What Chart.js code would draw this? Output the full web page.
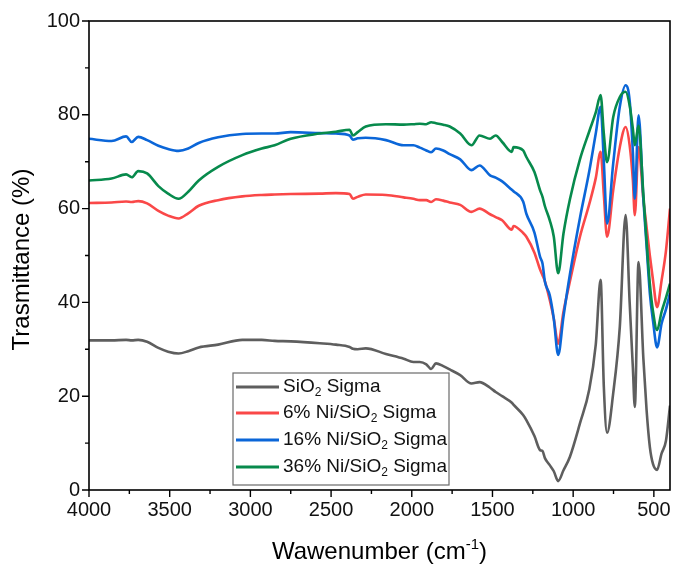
<!DOCTYPE html>
<html>
<head>
<meta charset="utf-8">
<title>FTIR spectra - SiO2 Sigma</title>
<script src="https://cdn.jsdelivr.net/npm/chart.js@4.4.1/dist/chart.umd.min.js"></script>
<style>
    html, body { margin: 0; padding: 0; background: #ffffff; }
    #wrap { width: 673px; height: 566px; }
</style>
</head>
<body>
<div id="wrap"><canvas id="ftirChart" width="673" height="566"></canvas></div>
<script>
// Wavenumbers (cm-1) shared by all four spectra
const wavenumbers = [
    4000, 3860, 3770, 3735, 3695, 3640, 3570, 3510, 3445, 3385,
    3320, 3200, 3050, 2930, 2850, 2750, 2570, 2470, 2385, 2365,
    2335, 2285, 2160, 2050, 1990, 1950, 1910, 1880, 1850, 1805,
    1765, 1700, 1630, 1580, 1515, 1480, 1440, 1380, 1370, 1310,
    1290, 1240, 1205, 1190, 1175, 1145, 1120, 1093, 1060, 1020,
    958, 900, 860, 830, 810, 790, 752, 711, 675, 650,
    630, 618, 595, 565, 545, 525, 505, 480, 452, 425, 400
];

// Transmittance (%)
const tSiO2 = [
    31.9, 31.9, 32.0, 31.9, 32.0, 31.6, 30.3, 29.5, 29.1, 29.6,
    30.4, 31.0, 32.0, 32.0, 31.8, 31.7, 31.3, 31.0, 30.5, 30.1,
    30.0, 30.2, 29.0, 28.0, 27.3, 27.3, 26.8, 25.8, 27.0, 26.4,
    25.7, 24.5, 22.7, 23.0, 21.8, 20.9, 20.0, 18.6, 18.2, 16.0,
    14.9, 11.5, 8.5, 8.3, 6.8, 5.3, 4.0, 1.9, 4.2, 7.1,
    14.2, 21.5, 31.0, 44.8, 22.0, 12.2, 20.6, 34.8, 58.6, 40.0,
    26.0, 17.7, 48.6, 28.0, 17.0, 9.2, 5.5, 4.3, 7.8, 10.5, 18.0
];
const tNi6 = [
    61.2, 61.3, 61.5, 61.4, 61.6, 61.1, 59.5, 58.5, 57.9, 59.0,
    60.6, 61.8, 62.6, 62.9, 63.0, 63.1, 63.2, 63.3, 63.1, 62.1,
    62.5, 63.0, 62.9, 62.4, 62.1, 61.8, 61.8, 61.4, 62.0, 61.7,
    61.3, 60.8, 59.3, 60.0, 58.8, 58.2, 57.5, 55.5, 56.3, 54.8,
    54.0, 50.6, 47.0, 45.8, 44.5, 40.5, 36.5, 31.2, 38.0, 44.5,
    54.0, 61.0, 66.5, 72.1, 63.0, 54.0, 63.9, 73.1, 77.4, 73.5,
    66.0, 58.6, 73.1, 62.0, 56.0, 50.0, 44.7, 39.0, 44.7, 51.0, 60.0
];
const tNi16 = [
    74.9, 74.4, 75.4, 74.2, 75.3, 74.6, 73.4, 72.7, 72.3, 72.8,
    74.0, 75.2, 75.9, 76.0, 76.0, 76.3, 76.1, 76.0, 75.6, 74.7,
    75.0, 75.1, 74.6, 73.5, 73.5, 73.0, 72.4, 72.0, 72.8, 72.4,
    71.6, 70.5, 68.2, 69.2, 67.1, 66.6, 65.8, 64.0, 63.7, 61.5,
    58.9, 54.9, 49.7, 48.3, 44.4, 41.5, 36.5, 28.8, 37.0, 46.0,
    58.0, 68.0, 76.0, 81.7, 70.0, 56.8, 69.6, 81.7, 86.3, 83.0,
    72.0, 62.1, 79.9, 62.0, 52.0, 42.0, 36.0, 30.4, 35.5, 38.5, 42.0
];
const tNi36 = [
    66.0, 66.4, 67.3, 66.7, 68.0, 67.5, 64.8, 63.2, 62.1, 63.6,
    66.0, 68.9, 71.4, 72.8, 73.5, 74.9, 76.0, 76.4, 76.8, 75.6,
    76.3, 77.5, 78.0, 77.9, 78.0, 78.1, 78.0, 78.4, 78.2, 77.9,
    77.5, 76.0, 73.5, 75.6, 74.9, 75.6, 74.2, 72.1, 73.1, 72.4,
    71.0, 67.8, 63.9, 62.5, 60.5, 57.5, 54.0, 46.2, 54.7, 62.0,
    70.5, 76.5, 80.5, 84.2, 76.0, 69.9, 79.5, 83.8, 84.9, 82.0,
    77.0, 73.5, 77.7, 63.0, 53.0, 44.0, 38.0, 34.1, 38.0, 41.0, 44.0
];

// Labelled ticks
const xTickLabels = [4000, 3500, 3000, 2500, 2000, 1500, 1000, 500];
const yTickLabels = [0, 20, 40, 60, 80, 100];

// Legend entries: [text, subscript, text]
const legendLabels = [
    ['SiO', '2', ' Sigma'],
    ['6% Ni/SiO', '2', ' Sigma'],
    ['16% Ni/SiO', '2', ' Sigma'],
    ['36% Ni/SiO', '2', ' Sigma']
];
const seriesColors = ['#5e5e5e', '#fa4848', '#0b66d8', '#078a4c'];

const FONT = '"Liberation Sans", Arial, sans-serif';

// Build {x, y} points for one spectrum
function toPoints(values) {
    return wavenumbers.map((w, i) => ({ x: w, y: values[i] }));
}

function makeDataset(values, idx, order) {
    return {
        label: legendLabels[idx].join(''),
        data: toPoints(values),
        borderColor: seriesColors[idx],
        borderWidth: 2.6,
        pointRadius: 0,
        cubicInterpolationMode: 'monotone',
        fill: false,
        order: order
    };
}

// Draws the box frame, outward ticks, axis titles and the legend
const decorPlugin = {
    id: 'decor',
    afterDraw(chart) {
        const ctx = chart.ctx;
        const area = chart.chartArea;
        const xs = chart.scales.x;
        const ys = chart.scales.y;

        ctx.save();
        ctx.strokeStyle = '#000';
        ctx.lineWidth = 1.6;
        ctx.strokeRect(area.left, area.top, area.right - area.left, area.bottom - area.top);

        // tick marks
        ctx.lineWidth = 1.4;
        ctx.beginPath();
        xs.ticks.forEach(t => {
            const px = xs.getPixelForValue(t.value);
            const len = xTickLabels.includes(t.value) ? 7 : 4;
            ctx.moveTo(px, area.bottom);
            ctx.lineTo(px, area.bottom + len);
        });
        ys.ticks.forEach(t => {
            const py = ys.getPixelForValue(t.value);
            const len = yTickLabels.includes(t.value) ? 7 : 4;
            ctx.moveTo(area.left, py);
            ctx.lineTo(area.left - len, py);
        });
        ctx.stroke();

        // y axis title
        ctx.fillStyle = '#000';
        ctx.font = '24px ' + FONT;
        ctx.textAlign = 'center';
        ctx.textBaseline = 'middle';
        ctx.save();
        ctx.translate(22, (area.top + area.bottom) / 2 + 4);
        ctx.rotate(-Math.PI / 2);
        ctx.fillText('Trasmittance (%)', 0, 0);
        ctx.restore();

        // x axis title with superscript
        const main = 'Wawenumber (cm';
        const sup = '-1';
        const close = ')';
        ctx.textAlign = 'left';
        ctx.textBaseline = 'alphabetic';
        ctx.font = '24px ' + FONT;
        const wMain = ctx.measureText(main).width;
        const wClose = ctx.measureText(close).width;
        ctx.font = '15px ' + FONT;
        const wSup = ctx.measureText(sup).width;
        let x = (area.left + area.right) / 2 - (wMain + wSup + wClose) / 2;
        const base = 559;
        ctx.font = '24px ' + FONT;
        ctx.fillText(main, x, base);
        x += wMain;
        ctx.font = '15px ' + FONT;
        ctx.fillText(sup, x, base - 10);
        x += wSup;
        ctx.font = '24px ' + FONT;
        ctx.fillText(close, x, base);

        // legend box
        const box = { left: 233, top: 373, width: 216, height: 112 };
        ctx.fillStyle = '#fff';
        ctx.fillRect(box.left, box.top, box.width, box.height);
        ctx.strokeStyle = '#6a6a6a';
        ctx.lineWidth = 1.2;
        ctx.strokeRect(box.left, box.top, box.width, box.height);
        const rows = [387, 413, 440, 467];
        legendLabels.forEach((parts, i) => {
            const y = rows[i];
            ctx.strokeStyle = seriesColors[i];
            ctx.lineWidth = 3;
            ctx.beginPath();
            ctx.moveTo(236, y);
            ctx.lineTo(279, y);
            ctx.stroke();

            ctx.fillStyle = '#111';
            ctx.textBaseline = 'middle';
            let tx = 283;
            ctx.font = '19px ' + FONT;
            ctx.fillText(parts[0], tx, y);
            tx += ctx.measureText(parts[0]).width;
            ctx.font = '12px ' + FONT;
            ctx.fillText(parts[1], tx, y + 6);
            tx += ctx.measureText(parts[1]).width;
            ctx.font = '19px ' + FONT;
            ctx.fillText(parts[2], tx, y);
        });
        ctx.restore();
    }
};

function initializeChart() {
    const ctx = document.getElementById('ftirChart').getContext('2d');
    return new Chart(ctx, {
        type: 'line',
        data: {
            datasets: [
                makeDataset(tSiO2, 0, 3),
                makeDataset(tNi6, 1, 2),
                makeDataset(tNi16, 2, 1),
                makeDataset(tNi36, 3, 0)
            ]
        },
        options: {
            responsive: false,
            animation: false,
            devicePixelRatio: 1,
            layout: { padding: { top: 21, right: 3, left: 0, bottom: 0 } },
            plugins: {
                legend: { display: false },
                tooltip: { enabled: false }
            },
            scales: {
                x: {
                    type: 'linear',
                    reverse: true,
                    min: 400,
                    max: 4000,
                    grid: { display: false, drawTicks: false },
                    border: { display: false },
                    ticks: {
                        stepSize: 250,
                        includeBounds: false,
                        autoSkip: false,
                        maxRotation: 0,
                        padding: 8,
                        color: '#111',
                        font: { family: FONT, size: 20 },
                        callback: v => xTickLabels.includes(v) ? String(v) : ''
                    },
                    afterFit: scale => {
                        scale.height = 76;
                        scale.paddingLeft = 0;
                        scale.paddingRight = 0;
                    }
                },
                y: {
                    type: 'linear',
                    min: 0,
                    max: 100,
                    grid: { display: false, drawTicks: false },
                    border: { display: false },
                    ticks: {
                        stepSize: 10,
                        autoSkip: false,
                        padding: 9,
                        color: '#111',
                        font: { family: FONT, size: 20 },
                        callback: v => yTickLabels.includes(v) ? String(v) : ''
                    },
                    afterFit: scale => {
                        scale.width = 89;
                        scale.paddingTop = 0;
                        scale.paddingBottom = 0;
                    }
                }
            }
        },
        plugins: [decorPlugin]
    });
}

document.addEventListener('DOMContentLoaded', function () {
    initializeChart();
});
</script>
</body>
</html>
